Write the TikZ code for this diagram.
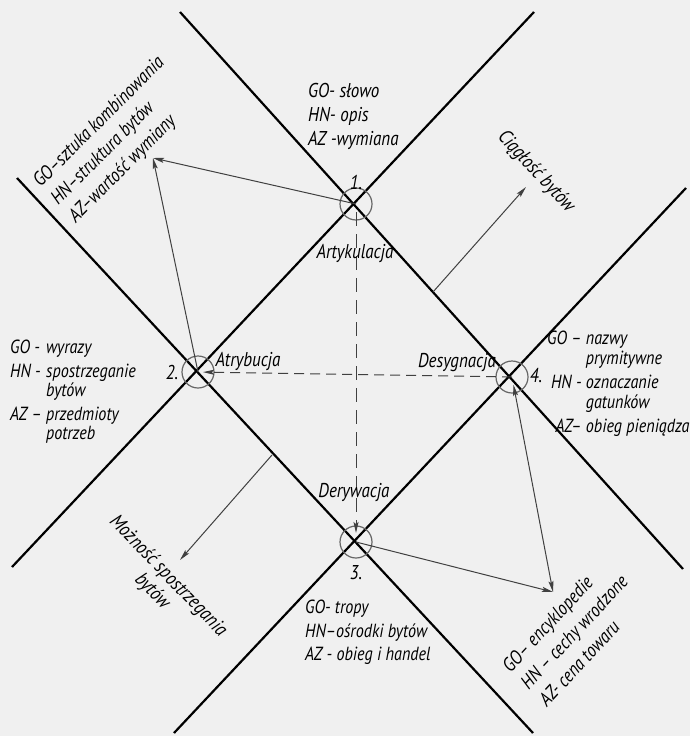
\documentclass[tikz,border=0pt]{standalone}
\usepackage{fontspec}
\setmainfont{PT Sans}[FakeStretch=0.85]
\usetikzlibrary{arrows.meta}

\begin{document}
\begin{tikzpicture}[x=1pt,y=-1pt,
    axis/.style={line width=2.2pt},
    hub/.style={circle,draw=black!60,line width=1.2pt,minimum size=32pt,inner sep=0pt},
    link/.style={line width=1pt,black!75,-{Stealth[length=11pt,width=5pt,inset=2pt]}},
    lbl/.style={font=\itshape\fontsize{20}{24}\selectfont,inner sep=0pt},
    small/.style={lbl,font=\itshape\fontsize{19}{24}\selectfont},
    big/.style={lbl,font=\itshape\fontsize{19.5}{25}\selectfont}]
  \fill[black!6] (0,0) rectangle (690,736);
  \useasboundingbox (0,0) rectangle (690,736);
  % the four axes
  \draw[axis] (180,12)--(683,569);
  \draw[axis] (17,178)--(533,733);
  \draw[axis] (534,12)--(12,567);
  \draw[axis] (686,188)--(174,733);
  % crossings
  \node[hub] (n1) at (356,204) {};
  \node[hub] (n2) at (198,372) {};
  \node[hub] (n3) at (356,542) {};
  \node[hub] (n4) at (512,377) {};
  \coordinate (p1) at (153,158);
  \coordinate (p4) at (553,592);
  \coordinate (c1) at (433,292);
  \coordinate (c2) at (526,187);
  \coordinate (m1) at (272,455);
  \coordinate (m2) at (180,560);
  % connectors
  \draw[link] (n1.center)--(p1);
  \draw[link] (n2.center)--(p1);
  \draw[link] (n3.center)--(p4);
  \draw[link,{Stealth[length=11pt,width=5pt,inset=2pt]}-{Stealth[length=11pt,width=5pt,inset=2pt]},shorten <=8pt] (n4.center)--(p4);
  \draw[link,dash pattern=on 14pt off 8pt,shorten <=8pt,shorten >=9pt] (n1.center)--(n3.center);
  \draw[link,dash pattern=on 10pt off 6pt,shorten >=5pt] (n4.center)--(n2.center);
  \draw[link] (c1)--(c2);
  \draw[link] (m1)--(m2);
  % labels at the crossings
  \node[lbl] (k1) at (356,182) {1.};
  \node[lbl] (a1) at (355,253) {Artykulacja};
  \node[lbl] (k2) at (172,372) {2.};
  \node[lbl] (a2) at (248,361) {Atrybucja};
  \node[lbl] (k3) at (356,573) {3.};
  \node[lbl] (a3) at (354,492) {Derywacja};
  \node[lbl] (k4) at (536,376) {4.};
  \node[lbl] (a4) at (457,363) {Desygnacja};
  % descriptions
  \node[lbl,anchor=north west,align=left] (t1) at (308,83) {GO- słowo\\HN- opis\\AZ -wymiana};
  \node[small,anchor=north west] (t2) at (10,336) {\begin{tabular}{@{}l@{ }l@{}}GO -&wyrazy\\HN -&spostrzeganie\\[-5pt]&bytów\\AZ --&przedmioty\\[-5pt]&potrzeb\end{tabular}};
  \node[small,anchor=north west,align=left,font=\itshape\fontsize{19}{23.5}\selectfont] (t3) at (305,600) {GO- tropy\\HN--ośrodki bytów\\AZ - obieg i handel};
  \node[small,anchor=north west] (t4) at (547,327) {\begin{tabular}{@{}r@{ }l@{}}GO --&nazwy\\[-4pt]&prymitywne\\HN -&oznaczanie\\[-4pt]&gatunków\\AZ--&obieg pieniądza\end{tabular}};
  \node[big,rotate=45,align=left] (t5) at (117,140) {GO--sztuka kombinowania\\HN--struktura bytów\\AZ--wartość wymiany};
  \node[big,rotate=47,align=left] (t6) at (574,632) {GO-- encyklopedie\\HN -- cechy wrodzone\\AZ- cena towaru};
  \node[lbl,rotate=-47] (t7) at (536,172) {Ciągłość bytów};
  \node[lbl,rotate=-46,align=center,font=\itshape\fontsize{20}{22}\selectfont] (t8) at (160,584) {Możność spostrzegania\\bytów};
\end{tikzpicture}
\end{document}
